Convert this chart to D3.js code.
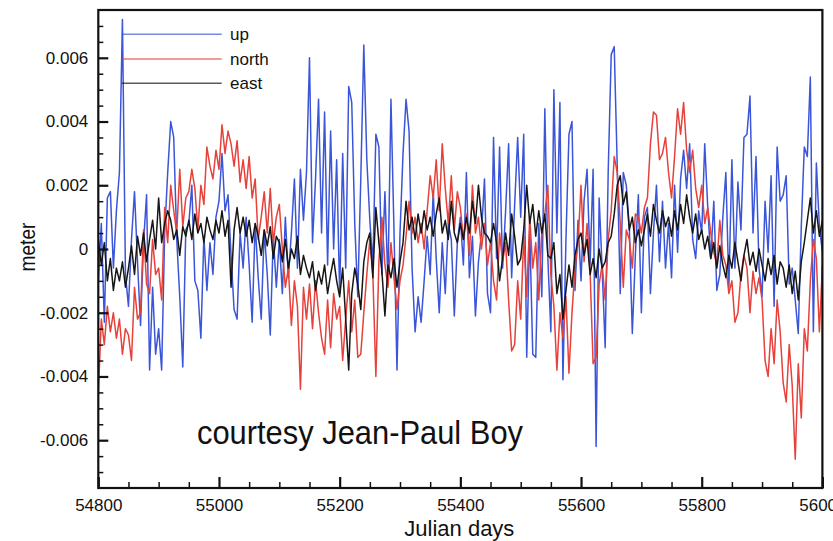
<!DOCTYPE html>
<html><head><meta charset="utf-8">
<script src="https://cdn.jsdelivr.net/npm/d3@7"></script>
<style>
body{margin:0;background:#fff}
svg{display:block}
text{font-family:"Liberation Sans",Arial,Helvetica,sans-serif;fill:#111}
</style>
</head><body>
<svg id="chart" width="833" height="541"></svg>
<script>
// ---- data (values in millimetres, sampled every 5 Julian days) ----
const days = d3.range(54800, 56001, 5);
const upMm = [
-1.0,0.8,-2.3,1.6,1.8,-0.6,1.2,2.4,7.2,-0.8,
-1.8,0.3,1.8,-0.4,-2.4,0.2,1.7,-3.8,-1.2,-3.3,
-2.5,-3.8,0.5,2.4,4.0,3.5,0.3,-1.5,-3.7,0.6,
0.8,2.0,-1.0,-1.3,-2.8,0.4,-1.3,0.2,-0.8,1.0,
1.5,3.0,1.2,1.7,-0.2,-1.9,-2.2,0.5,-0.6,1.0,
-0.5,-2.3,0.8,-0.9,-2.2,0.6,-0.8,-2.7,0.4,-1.2,
0.3,-1.4,1.0,-0.9,0.5,2.2,-0.6,2.5,0.9,2.4,
6.0,0.2,2.2,4.7,0.5,4.3,-0.5,3.7,0.0,2.8,
-1.4,3.0,-0.6,5.1,4.6,0.8,-1.5,2.2,6.4,2.8,
0.9,-0.5,3.6,3.2,-0.8,1.8,-1.0,4.7,0.6,-3.8,
0.5,3.0,4.7,3.7,-0.6,-2.6,-1.5,-2.3,-1.0,0.4,
-0.8,1.8,-0.3,-2.0,0.2,-1.4,0.8,0.3,-2.1,0.2,
1.0,-0.5,2.4,-0.9,0.4,-2.1,-0.4,0.5,2.2,-1.4,
-2.0,3.5,-0.3,3.2,-0.6,1.2,3.3,-0.9,1.4,3.5,
1.0,3.6,-3.4,0.6,-3.3,-3.4,0.8,-1.5,4.4,-0.3,
-2.6,5.0,0.5,4.6,-4.1,0.3,3.6,4.0,-1.3,0.9,
-1.0,1.5,2.5,-0.5,2.5,-6.2,1.6,-0.6,-3.1,2.4,
6.1,6.35,2.6,-1.4,2.4,2.0,0.7,-2.65,-0.2,1.7,
-2.0,1.0,1.3,-1.4,0.5,2.0,-0.4,1.5,-0.6,0.8,
-0.9,2.0,-0.1,2.2,3.1,1.9,3.3,0.3,-0.3,1.2,
0.5,3.3,1.3,-0.3,1.5,-1.3,-0.8,1.0,2.4,-1.2,
2.8,-0.6,2.1,0.6,3.5,3.6,4.8,0.5,2.9,-0.6,
-1.5,1.5,-0.1,2.3,-1.8,3.2,1.5,1.7,2.3,-1.1,
-0.6,-1.6,-2.65,0.7,3.2,2.9,5.4,-2.6,2.7,0.7,-0.1];
const northMm = [
-4.6,-2.2,-3.0,-1.8,-2.6,-2.0,-2.8,-2.2,-3.3,-2.5,
-2.7,-3.5,-1.2,-2.2,-2.0,0.6,-1.1,-1.4,0.3,-0.8,
-0.6,-1.6,1.3,0.2,2.0,1.2,0.5,2.5,0.7,1.6,
1.8,2.5,1.9,0.6,2.0,1.4,3.2,2.6,2.2,3.1,
2.5,3.9,3.0,3.7,3.3,2.6,3.4,2.1,2.8,1.9,
2.9,1.6,2.2,0.3,1.0,1.8,0.5,1.9,0.2,1.0,
1.4,0.0,-1.2,-0.6,-2.4,-1.0,-1.8,-4.4,-1.2,-2.2,
-1.1,-2.5,-1.0,-2.0,-2.8,-3.3,-1.6,-3.1,-1.4,-2.2,
-1.8,-3.5,-2.2,-1.0,-2.6,-1.6,-3.4,-3.3,-2.0,-0.8,
0.3,-0.8,-4.0,-0.4,1.0,-0.5,-1.2,0.2,-0.9,-1.9,
-1.0,-0.5,0.4,1.5,0.5,1.0,0.2,0.8,0.0,1.2,
2.3,1.6,2.8,1.2,3.3,1.9,0.8,2.3,0.6,1.8,
1.3,0.3,1.1,-0.2,2.0,0.5,1.0,0.0,0.8,-0.5,
0.2,-1.0,-1.6,0.5,-0.4,0.2,-1.6,-3.2,-3.0,-1.0,
-2.2,0.4,-1.5,1.0,-0.6,0.2,-1.6,0.5,1.1,2.0,
-0.8,-1.8,-3.8,-2.0,-2.8,-1.5,-3.9,-2.0,-0.6,0.2,
2.0,-0.4,0.8,-0.7,-3.6,-3.4,-1.1,-0.5,-1.6,0.3,
1.2,2.9,2.4,0.8,-1.2,0.6,0.3,-0.6,1.1,1.0,
0.5,1.3,1.6,3.3,4.3,4.2,2.8,3.0,3.5,2.4,
1.6,2.9,4.4,3.6,4.6,3.1,2.4,3.1,1.9,1.3,
2.0,0.8,1.3,0.5,-0.1,-0.5,0.9,-0.2,-0.5,-1.4,
-1.0,-2.3,-2.0,-0.8,-0.2,-0.6,-2.0,-0.7,-1.4,-0.9,
-1.6,-3.5,-4.0,-2.5,-3.6,-1.6,-2.6,-4.2,-4.8,-3.0,
-4.3,-6.6,-3.6,-5.3,-2.5,-3.2,-1.0,0.3,-0.3,-2.6,-0.5];
const eastMm = [
0.3,-0.5,0.2,-1.0,-0.3,-1.3,-0.6,-1.0,-0.4,-1.2,
-0.6,0.1,-0.8,0.4,-0.2,0.5,-0.4,0.3,0.9,0.0,
1.6,0.2,0.8,1.2,0.9,0.3,0.6,-0.2,0.7,0.4,
0.9,0.3,1.1,0.5,0.8,0.2,1.0,0.6,0.3,0.9,
0.5,1.2,0.4,0.9,-1.2,0.6,1.3,0.5,1.0,0.4,
0.9,0.2,0.8,0.4,-0.2,0.6,0.1,0.7,-0.3,0.4,
0.2,-0.4,0.3,-0.6,0.0,-0.3,0.4,-0.8,-0.2,-0.6,
-0.9,-0.4,-1.3,-0.7,-1.1,-0.5,-1.4,-0.8,-0.3,-1.0,
-1.5,-0.6,-2.2,-3.8,-1.4,-0.6,-1.1,-1.9,-0.4,0.2,
0.5,-0.9,1.3,0.2,-0.7,-2.1,-0.5,-0.9,-0.3,-1.2,
-0.4,0.2,1.5,0.6,1.0,0.3,1.1,0.5,1.2,0.6,
1.0,0.4,1.1,1.6,0.5,0.9,0.3,1.5,0.5,0.2,
0.8,0.3,1.0,0.5,1.5,0.8,2.0,1.0,0.5,0.4,
0.2,0.8,0.2,-1.0,-0.3,0.5,-0.2,1.1,0.4,-0.5,
-0.3,0.6,2.0,0.8,1.4,0.4,1.2,0.5,1.1,-0.2,
-0.3,0.2,-1.4,-0.8,-2.2,-1.3,-0.5,-1.2,-0.2,0.3,
0.5,-0.2,0.3,-0.8,-0.3,-0.9,0.0,-0.6,-0.4,0.2,
0.4,1.1,2.0,2.3,1.4,1.8,0.6,1.0,0.2,0.6,
0.1,0.6,1.1,0.4,1.4,0.9,0.5,1.2,0.7,1.0,
0.4,1.2,0.6,1.4,0.8,1.7,1.0,0.5,1.1,0.3,
0.6,0.0,0.4,-0.3,0.2,-0.6,0.1,-0.5,-0.9,-0.2,
-0.6,0.2,-0.4,-1.0,-0.2,0.3,-0.5,-0.1,-0.7,0.0,
-0.5,-1.0,-0.3,-0.8,-0.2,-1.1,-0.4,-0.6,-1.2,-0.5,
-1.4,-0.7,-1.6,-0.4,0.2,0.9,1.6,0.5,1.2,0.4,0.9];

const seriesNames = ["up", "north", "east"];
const seriesColors = ["#3b55d9", "#e6413a", "#161616"];
const xTicksMajor = [54800, 55000, 55200, 55400, 55600, 55800, 56000];
const xTicksMinor = d3.range(54850, 56000, 50).filter(d => d % 200 !== 0);
const yTicksMajor = [-0.006, -0.004, -0.002, 0, 0.002, 0.004, 0.006];
const yTicksMinor = d3.range(-7, 7.5, 0.5).map(d => d / 1000).filter(d => Math.abs(Math.round(d * 1e4)) % 20 !== 0);
const xTitle = "Julian days", yTitle = "meter", credit = "courtesy Jean-Paul Boy";

// ---- layout ----
const L = 98.3, R = 822.4, T = 10, B = 488;
const svg = d3.select("#chart");
svg.append("rect").attr("width", 833).attr("height", 541).attr("fill", "#fff");

const x = d3.scaleLinear().domain([54800, 56000]).range([L, R]);
const y = d3.scaleLinear().domain([-0.0075, 0.0075]).range([B, T]);

svg.append("defs").append("clipPath").attr("id", "clip")
  .append("rect").attr("x", L).attr("y", T).attr("width", R - L).attr("height", B - T);

const seriesData = [upMm, northMm, eastMm];
const line = d3.line().x((d, i) => x(days[i])).y(d => y(d / 1000));
const plot = svg.append("g").attr("clip-path", "url(#clip)");
seriesData.forEach((s, k) => {
  plot.append("path").datum(s).attr("d", line)
    .attr("fill", "none").attr("stroke", seriesColors[k])
    .attr("stroke-width", 1.5).attr("stroke-linejoin", "round");
});

// axes
function styleAxis(g, fs) {
  g.select(".domain").remove();
  g.attr("font-family", '"Liberation Sans",Arial,sans-serif').attr("font-size", fs);
  g.selectAll(".tick line").attr("stroke", "#111");
  g.selectAll(".tick text").attr("fill", "#111");
}
const yMajor = svg.append("g").attr("transform", `translate(${L},0)`)
  .call(d3.axisLeft(y).tickValues(yTicksMajor).tickSize(-10).tickPadding(10)
    .tickFormat(d => d === 0 ? "0" : d.toFixed(3)));
styleAxis(yMajor, 17);
yMajor.selectAll(".tick line").attr("stroke-width", 2.2);
const yMinor = svg.append("g").attr("transform", `translate(${L},0)`)
  .call(d3.axisLeft(y).tickValues(yTicksMinor).tickSize(-5).tickFormat(""));
styleAxis(yMinor, 10);
yMinor.selectAll(".tick line").attr("stroke-width", 1.5);

const xMajor = svg.append("g").attr("transform", `translate(0,${B})`)
  .call(d3.axisBottom(x).tickValues(xTicksMajor).tickSize(-11).tickPadding(11)
    .tickFormat(d => String(d)));
styleAxis(xMajor, 17);
xMajor.selectAll(".tick line").attr("stroke-width", 2.2);
const xMinor = svg.append("g").attr("transform", `translate(0,${B})`)
  .call(d3.axisBottom(x).tickValues(xTicksMinor).tickSize(-6).tickFormat(""));
styleAxis(xMinor, 10);
xMinor.selectAll(".tick line").attr("stroke-width", 1.5);

// frame
svg.append("rect").attr("x", L).attr("y", T).attr("width", R - L).attr("height", B - T)
  .attr("fill", "none").attr("stroke", "#111").attr("stroke-width", 2.2);

// titles
svg.append("text").attr("x", (L + R) / 2 - 1).attr("y", 536).attr("text-anchor", "middle")
  .attr("font-size", 22).text(xTitle);
svg.append("text").attr("transform", "translate(35,247) rotate(-90)").attr("text-anchor", "middle")
  .attr("font-size", 22).attr("textLength", 49).attr("lengthAdjust", "spacingAndGlyphs").text(yTitle);
svg.append("text").attr("x", 197).attr("y", 444).attr("font-size", 34)
  .attr("textLength", 326).attr("lengthAdjust", "spacingAndGlyphs").text(credit);

// legend
const legendY = [34.3, 59, 83.3];
seriesNames.forEach((n, k) => {
  svg.append("line").attr("x1", 121.7).attr("x2", 221.7).attr("y1", legendY[k]).attr("y2", legendY[k])
    .attr("stroke", seriesColors[k]).attr("stroke-opacity", 0.7).attr("stroke-width", 1.5);
  svg.append("text").attr("x", 230).attr("y", legendY[k] + 6).attr("font-size", 17).text(n);
});
</script>
</body></html>
